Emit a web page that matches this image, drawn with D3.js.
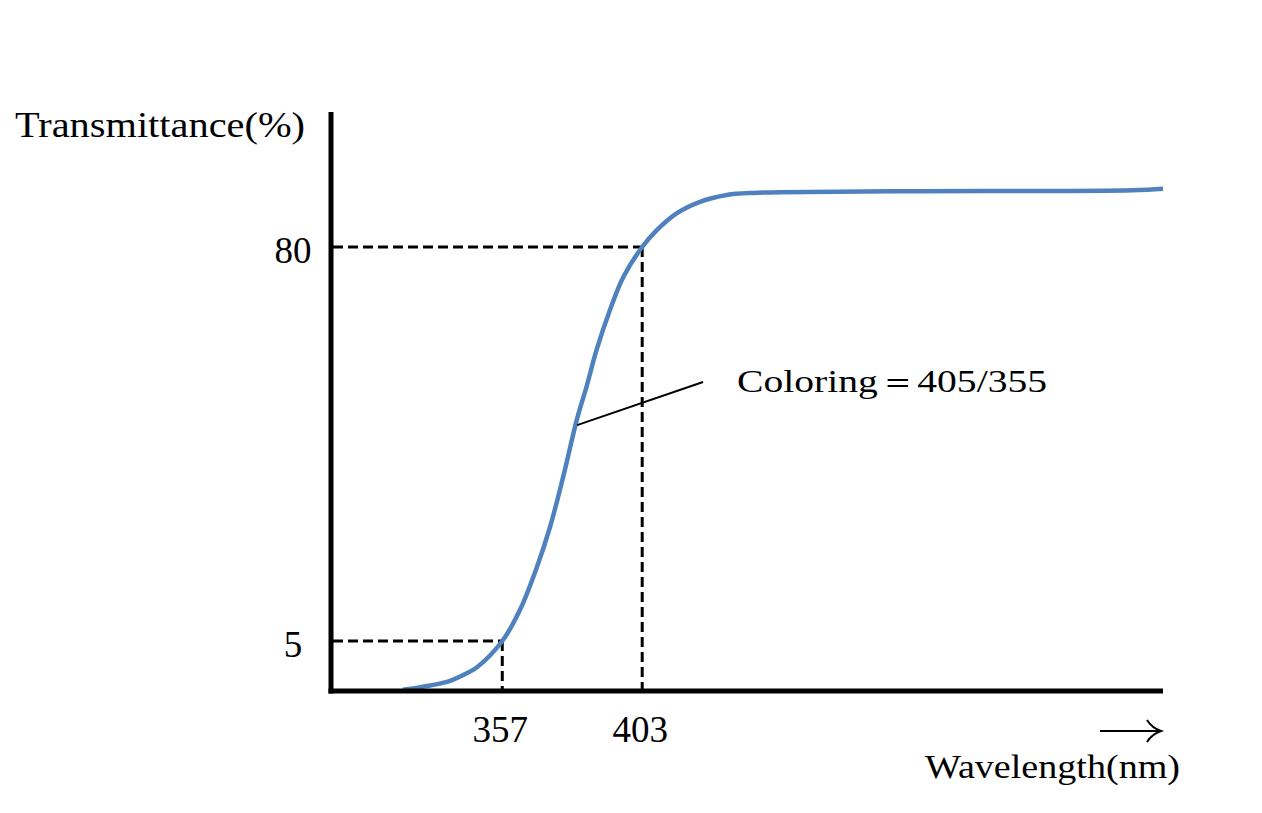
<!DOCTYPE html>
<html>
<head>
<meta charset="utf-8">
<script src="https://cdn.jsdelivr.net/npm/d3@7"></script>
<style>
  html, body { margin: 0; padding: 0; background: #fff; }
  svg { display: block; }
  text { font-family: "Liberation Serif", "DejaVu Serif", serif; fill: #000; }
</style>
</head>
<body>
<svg id="chart" width="1262" height="813"></svg>
<script>
// ---- data ----
const wavelength = [324.4, 330.9, 338.8, 344.1, 348.7, 357.0, 362.8, 368.4, 372.7, 377.0, 381.5, 384.7, 388.0, 392.4, 396.8, 403.0, 407.8, 414.3, 422.0, 430.8, 439.5, 448.3, 487.7, 564.0, 574.2];
const transmittance = [-4.3, -3.7, -2.8, -1.5, 0.0, 5.0, 10.9, 19.1, 26.7, 36.2, 47.1, 53.4, 60.4, 68.0, 74.3, 80.0, 83.2, 86.4, 88.6, 89.9, 90.3, 90.4, 90.6, 90.8, 91.1];
const markWavelengths = [357, 403];
const markTransmittance = [5, 80];
const yTickLabels = ["5", "80"];
const xTickLabels = ["357", "403"];
const annotationText = "Coloring\uFF1D405/355";
const yTitle = "Transmittance(%)";
const xTitle = "Wavelength(nm)";

// ---- scales ----
const svg = d3.select("#chart");
const x = d3.scaleLinear().domain([300.7, 574.2]).range([331, 1163]);
const y = d3.scaleLinear().domain([-4.52, 105.7]).range([691, 112]);

// ---- dashed guide lines ----
const guides = svg.append("g")
  .attr("stroke", "#000").attr("stroke-width", 3)
  .attr("stroke-dasharray", "10,5").attr("fill", "none");
markWavelengths.forEach((w, i) => {
  const t = markTransmittance[i];
  guides.append("line")
    .attr("x1", x.range()[0] + 2).attr("x2", x(w))
    .attr("y1", y(t)).attr("y2", y(t));
  guides.append("line")
    .attr("x1", x(w)).attr("x2", x(w))
    .attr("y1", y(t)).attr("y2", y.range()[0]);
});

// ---- curve ----
const pts = wavelength.map((w, i) => [w, transmittance[i]]);
const line = d3.line().x(d => x(d[0])).y(d => y(d[1])).curve(d3.curveCatmullRom.alpha(0.5));
svg.append("path")
  .datum(pts)
  .attr("d", line)
  .attr("fill", "none")
  .attr("stroke", "#4F81BD")
  .attr("stroke-width", 4.5)
  .attr("stroke-linecap", "butt");

// ---- axes ----
svg.append("line")
  .attr("x1", x.range()[0]).attr("x2", x.range()[0])
  .attr("y1", y.range()[1]).attr("y2", y.range()[0] + 2.5)
  .attr("stroke", "#000").attr("stroke-width", 5);
svg.append("line")
  .attr("x1", x.range()[0] - 2.5).attr("x2", x.range()[1])
  .attr("y1", y.range()[0]).attr("y2", y.range()[0])
  .attr("stroke", "#000").attr("stroke-width", 5);

// ---- tick labels ----
markTransmittance.forEach((t, i) => {
  svg.append("text")
    .attr("x", 293).attr("y", y(t) + 16)
    .attr("text-anchor", "middle")
    .attr("font-size", 37)
    .text(yTickLabels[i]);
});
markWavelengths.forEach((w, i) => {
  svg.append("text")
    .attr("x", x(w) - 2).attr("y", 742)
    .attr("text-anchor", "middle")
    .attr("font-size", 37)
    .text(xTickLabels[i]);
});

// ---- titles ----
svg.append("text")
  .attr("x", 15).attr("y", 137)
  .attr("font-size", 36)
  .attr("textLength", 290).attr("lengthAdjust", "spacingAndGlyphs")
  .text(yTitle);
svg.append("text")
  .attr("x", 925).attr("y", 778)
  .attr("font-size", 33)
  .attr("textLength", 255).attr("lengthAdjust", "spacingAndGlyphs")
  .text(xTitle);

// ---- arrow ----
svg.append("path")
  .attr("d", "M1100,731 L1160,731 M1147,720 Q1152,728 1161,731 Q1152,734 1147,742")
  .attr("fill", "none").attr("stroke", "#000").attr("stroke-width", 2);

// ---- annotation ----
const leadFrom = [381.6, 46.1];
const leadTo = [423.0, 54.3];
svg.append("line")
  .attr("x1", x(leadFrom[0])).attr("y1", y(leadFrom[1]))
  .attr("x2", x(leadTo[0])).attr("y2", y(leadTo[1]))
  .attr("stroke", "#000").attr("stroke-width", 2);
svg.append("text")
  .attr("x", 737).attr("y", 392)
  .attr("font-size", 31)
  .attr("textLength", 310).attr("lengthAdjust", "spacingAndGlyphs")
  .text(annotationText);
</script>
</body>
</html>
